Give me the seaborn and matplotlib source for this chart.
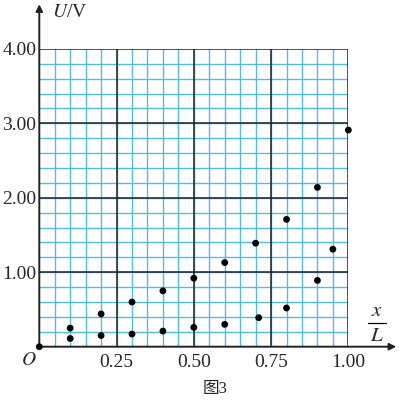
import numpy as np
import pandas as pd
import matplotlib
matplotlib.use("Agg")
import matplotlib.pyplot as plt
import seaborn as sns

# datos
x_sup = [0.0, 0.10, 0.20, 0.30, 0.40, 0.50, 0.60, 0.70, 0.80, 0.90, 1.00]
u_sup = [0.0, 0.25, 0.44, 0.60, 0.75, 0.92, 1.13, 1.39, 1.71, 2.14, 2.91]
x_inf = [0.10, 0.20, 0.30, 0.40, 0.50, 0.60, 0.71, 0.80, 0.90, 0.95]
u_inf = [0.11, 0.15, 0.17, 0.21, 0.26, 0.30, 0.39, 0.52, 0.89, 1.31]
xticks = [0.25, 0.50, 0.75, 1.00]
xtick_labels = ["0.25", "0.50", "0.75", "1.00"]
yticks = [1.0, 2.0, 3.0, 4.0]
ytick_labels = ["1.00", "2.00", "3.00", "4.00"]

sns.set_style("white")
plt.rcParams["font.family"] = ["Liberation Serif", "Noto Sans CJK SC", "DejaVu Sans"]
plt.rcParams["mathtext.fontset"] = "stix"

df = pd.DataFrame({
    "x": x_sup + x_inf,
    "U": u_sup + u_inf,
})

fig = plt.figure(figsize=(3.99, 4.01), dpi=100)
ax = fig.add_axes([0.0985, 0.1354, 0.7745, 0.7426])
ax.set_xlim(0, 1)
ax.set_ylim(0, 4)

azul = "#52bde2"
# cuadricula fina
for v in np.arange(0.05, 1.0, 0.05):
    ax.axvline(v, color=azul, lw=1.0, zorder=1)
for v in np.arange(0.2, 4.0, 0.2):
    ax.axhline(v, color=azul, lw=1.0, zorder=1)
# cuadricula gruesa
for v in xticks:
    ax.axvline(v, color="#222222", lw=1.1, zorder=2)
for v in yticks:
    ax.axhline(v, color="#222222", lw=1.1, zorder=2)

sns.scatterplot(data=df, x="x", y="U", color="black", s=24, edgecolor="none",
                zorder=5, ax=ax, clip_on=False)

for s in ax.spines.values():
    s.set_visible(False)

# ejes con flecha
ax.annotate("", xy=(1.155, 0), xytext=(0, 0), xycoords="data",
            arrowprops=dict(arrowstyle="-|>", color="#222222", lw=1.4,
                            mutation_scale=10, shrinkA=0, shrinkB=0),
            annotation_clip=False, zorder=4)
ax.annotate("", xy=(0, 4.6), xytext=(0, 0), xycoords="data",
            arrowprops=dict(arrowstyle="-|>", color="#222222", lw=1.4,
                            mutation_scale=10, shrinkA=0, shrinkB=0),
            annotation_clip=False, zorder=4)

ax.set_xticks(xticks)
ax.set_xticklabels(xtick_labels, fontsize=14)
ax.set_yticks(yticks)
ax.set_yticklabels(ytick_labels, fontsize=14)
ax.tick_params(axis="y", length=0, pad=2)
ax.tick_params(axis="x", length=0, pad=5)
ax.set_xlabel("")
ax.set_ylabel("")

ax.text(0.04, 4.49, r"$U$/V", fontsize=14, ha="left", va="center")
ax.text(-0.01, -0.07, r"$O$", fontsize=14, ha="right", va="top")
# fraccion x/L
ax.text(1.092, 0.47, r"$x$", fontsize=15, ha="center", va="center")
ax.plot([1.064, 1.122], [0.314, 0.314], color="black", lw=0.9, clip_on=False)
ax.text(1.092, 0.14, r"$L$", fontsize=15, ha="center", va="center")
fig.text(0.54, 0.03, "图3", fontsize=12, ha="center", va="center")

fig.savefig("out.png", dpi=100)
